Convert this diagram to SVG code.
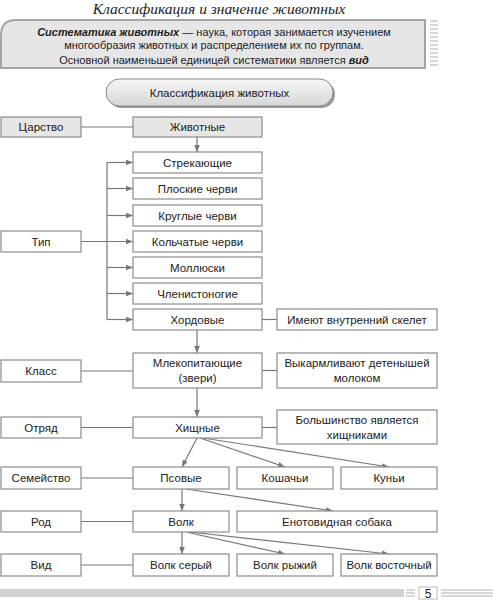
<svg xmlns="http://www.w3.org/2000/svg" width="493" height="600" viewBox="0 0 493 600">
<style>
.box{fill:#fff;stroke:#8c8c8c;stroke-width:1.2}
.gbox{fill:#e6e6e6;stroke:#8c8c8c;stroke-width:1.2}
.t{font-family:"Liberation Sans",Arial,sans-serif;font-size:11.5px;fill:#222;text-anchor:middle}
.h{font-family:"Liberation Sans",Arial,sans-serif;font-size:11px;fill:#222;text-anchor:middle}
.ln{stroke:#777;stroke-width:1.2;fill:none}
.ar{stroke:#777;stroke-width:1.2;fill:none;marker-end:url(#ah)}
.st{stroke:#b0b0b0;stroke-width:1}
</style>
<defs>
<marker id="ah" viewBox="0 0 10 10" refX="10" refY="5" markerWidth="7" markerHeight="7" markerUnits="userSpaceOnUse" orient="auto">
<path d="M0,1 L10,5 L0,9 z" fill="#777"/>
</marker>
<linearGradient id="pg" x1="0" y1="0" x2="0" y2="1">
<stop offset="0" stop-color="#f7f7f7"/>
<stop offset="1" stop-color="#d6d6d6"/>
</linearGradient>
</defs>
<rect width="493" height="600" fill="#fff"/>

<text x="219" y="13.5" font-family="Liberation Serif,Times New Roman,serif" font-style="italic" font-size="15.5" fill="#222" text-anchor="middle">Классификация и значение животных</text>

<g id="definition">
<path d="M1,68 L1,35 Q1,20 16,20 L425,20 L425,68 Z" fill="#e6e6e6" stroke="#a5a5a5" stroke-width="2"/>
<text class="h" x="214" y="35.5"><tspan font-weight="bold" font-style="italic">Систематика животных</tspan> — наука, которая занимается изучением</text>
<text class="h" x="214" y="49">многообразия животных и распределением их по группам.</text>
<text class="h" x="214" y="63.5">Основной наименьшей единицей систематики является <tspan font-weight="bold" font-style="italic">вид</tspan></text>
<g class="st">
<line x1="430" y1="21" x2="438" y2="21"/><line x1="430" y1="25" x2="438" y2="25"/><line x1="430" y1="29" x2="438" y2="29"/><line x1="430" y1="33" x2="438" y2="33"/><line x1="430" y1="37" x2="438" y2="37"/><line x1="430" y1="41" x2="438" y2="41"/><line x1="430" y1="45" x2="438" y2="45"/><line x1="430" y1="49" x2="438" y2="49"/><line x1="430" y1="53" x2="438" y2="53"/><line x1="430" y1="57" x2="438" y2="57"/><line x1="430" y1="61" x2="438" y2="61"/><line x1="430" y1="65" x2="438" y2="65"/>
</g>
</g>

<g id="title-pill">
<rect x="108" y="81" width="227" height="27" rx="13.5" fill="#9a9a9a"/>
<rect x="106" y="79" width="227" height="27" rx="13.5" fill="url(#pg)" stroke="#888" stroke-width="1"/>
<text class="t" x="219.5" y="96.5">Классификация животных</text>
</g>

<g id="connectors">
<line class="ln" x1="81" y1="127" x2="133" y2="127"/>
<line class="ar" x1="197" y1="137" x2="197" y2="152"/>
<line class="ln" x1="107" y1="162.5" x2="107" y2="319.5"/>
<line class="ar" x1="107" y1="162.5" x2="133" y2="162.5"/>
<line class="ar" x1="107" y1="188.5" x2="133" y2="188.5"/>
<line class="ar" x1="107" y1="215.5" x2="133" y2="215.5"/>
<line class="ar" x1="81" y1="241.5" x2="133" y2="241.5"/>
<line class="ar" x1="107" y1="267.5" x2="133" y2="267.5"/>
<line class="ar" x1="107" y1="293.5" x2="133" y2="293.5"/>
<line class="ar" x1="107" y1="319.5" x2="133" y2="319.5"/>
<line class="ln" x1="262" y1="319.5" x2="277" y2="319.5"/>
<line class="ar" x1="197" y1="330" x2="197" y2="353"/>
<line class="ln" x1="81" y1="371" x2="133" y2="371"/>
<line class="ln" x1="262" y1="370.5" x2="277" y2="370.5"/>
<line class="ar" x1="197" y1="388" x2="197" y2="417"/>
<line class="ln" x1="81" y1="427.5" x2="133" y2="427.5"/>
<line class="ln" x1="262" y1="427.5" x2="277" y2="427.5"/>
<line class="ar" x1="197" y1="438" x2="182" y2="467"/>
<line class="ar" x1="200" y1="438" x2="285" y2="467"/>
<line class="ar" x1="203" y1="438" x2="389" y2="467"/>
<line class="ln" x1="81" y1="478" x2="133" y2="478"/>
<line class="ar" x1="182" y1="489" x2="182" y2="511"/>
<line class="ar" x1="186" y1="489" x2="333" y2="511"/>
<line class="ln" x1="81" y1="521.5" x2="133" y2="521.5"/>
<line class="ar" x1="182" y1="532" x2="182" y2="554"/>
<line class="ar" x1="186" y1="532" x2="285" y2="554"/>
<line class="ar" x1="190" y1="532" x2="389" y2="554"/>
<line class="ln" x1="81" y1="565" x2="133" y2="565"/>
</g>

<g id="n-tsarstvo"><rect class="gbox" x="1" y="117" width="80" height="20"/><text class="t" x="41" y="131">Царство</text></g>
<g id="n-zhivotnye"><rect class="gbox" x="133" y="117" width="129" height="20"/><text class="t" x="197.5" y="131">Животные</text></g>

<g id="n-strek"><rect class="box" x="133" y="152" width="129" height="21"/><text class="t" x="197.5" y="166.5">Стрекающие</text></g>
<g id="n-ploskie"><rect class="box" x="133" y="178" width="129" height="21"/><text class="t" x="197.5" y="192.5">Плоские черви</text></g>
<g id="n-kruglye"><rect class="box" x="133" y="205" width="129" height="21"/><text class="t" x="197.5" y="219.5">Круглые черви</text></g>
<g id="n-kolchatye"><rect class="box" x="133" y="231" width="129" height="21"/><text class="t" x="197.5" y="245.5">Кольчатые черви</text></g>
<g id="n-mollyuski"><rect class="box" x="133" y="257" width="129" height="21"/><text class="t" x="197.5" y="271.5">Моллюски</text></g>
<g id="n-chlenist"><rect class="box" x="133" y="283" width="129" height="21"/><text class="t" x="197.5" y="297.5">Членистоногие</text></g>
<g id="n-hordovye"><rect class="box" x="133" y="309" width="129" height="21"/><text class="t" x="197.5" y="323.5">Хордовые</text></g>
<g id="n-tip"><rect class="box" x="1" y="231" width="80" height="21"/><text class="t" x="41" y="245.5">Тип</text></g>
<g id="n-skelet"><rect class="box" x="277" y="309" width="160" height="21"/><text class="t" x="357" y="323.5">Имеют внутренний скелет</text></g>

<g id="n-klass"><rect class="box" x="1" y="360" width="80" height="22"/><text class="t" x="41" y="375">Класс</text></g>
<g id="n-mlek"><rect class="box" x="133" y="353" width="129" height="35"/><text class="t" x="197.5" y="367">Млекопитающие</text><text class="t" x="197.5" y="382">(звери)</text></g>
<g id="n-vykarm"><rect class="box" x="277" y="353" width="160" height="35"/><text class="t" x="357" y="367">Выкармливают детенышей</text><text class="t" x="357" y="382">молоком</text></g>

<g id="n-otryad"><rect class="box" x="1" y="417" width="80" height="21"/><text class="t" x="41" y="431.5">Отряд</text></g>
<g id="n-hishchnye"><rect class="box" x="133" y="417" width="129" height="21"/><text class="t" x="197.5" y="431.5">Хищные</text></g>
<g id="n-bolshinstvo"><rect class="box" x="277" y="410" width="160" height="34"/><text class="t" x="357" y="424">Большинство является</text><text class="t" x="357" y="439">хищниками</text></g>

<g id="n-semeystvo"><rect class="box" x="1" y="467" width="80" height="22"/><text class="t" x="41" y="482">Семейство</text></g>
<g id="n-psovye"><rect class="box" x="133" y="467" width="96" height="22"/><text class="t" x="181" y="482">Псовые</text></g>
<g id="n-koshachi"><rect class="box" x="237" y="467" width="96" height="22"/><text class="t" x="285" y="482">Кошачьи</text></g>
<g id="n-kuni"><rect class="box" x="341" y="467" width="96" height="22"/><text class="t" x="389" y="482">Куньи</text></g>

<g id="n-rod"><rect class="box" x="1" y="511" width="80" height="21"/><text class="t" x="41" y="525.5">Род</text></g>
<g id="n-volk"><rect class="box" x="133" y="511" width="96" height="21"/><text class="t" x="181" y="525.5">Волк</text></g>
<g id="n-enot"><rect class="box" x="237" y="511" width="200" height="21"/><text class="t" x="337" y="525.5">Енотовидная собака</text></g>

<g id="n-vid"><rect class="box" x="1" y="554" width="80" height="22"/><text class="t" x="41" y="569">Вид</text></g>
<g id="n-volk-seryy"><rect class="box" x="133" y="554" width="96" height="22"/><text class="t" x="181" y="569">Волк серый</text></g>
<g id="n-volk-ryzhiy"><rect class="box" x="237" y="554" width="96" height="22"/><text class="t" x="285" y="569">Волк рыжий</text></g>
<g id="n-volk-vost"><rect class="box" x="341" y="554" width="96" height="22"/><text class="t" x="389" y="569">Волк восточный</text></g>

<g id="footer">
<rect x="0" y="589" width="404" height="8" fill="#d2d2d2"/>
<g class="st"><line x1="406" y1="590" x2="415" y2="590"/><line x1="406" y1="593" x2="415" y2="593"/><line x1="406" y1="596" x2="415" y2="596"/>
<line x1="441" y1="590" x2="493" y2="590"/><line x1="441" y1="593" x2="493" y2="593"/><line x1="441" y1="596" x2="493" y2="596"/></g>
<rect x="419" y="587" width="18" height="12" fill="#fff" stroke="#bbb" stroke-width="1"/>
<text x="428" y="597.5" font-family="Liberation Sans,Arial,sans-serif" font-size="12" fill="#222" text-anchor="middle">5</text>
</g>
</svg>
